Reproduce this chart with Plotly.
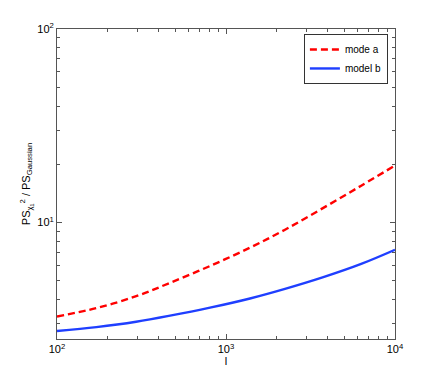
import plotly.graph_objects as go

ell = [100, 171, 294, 467, 804, 1387, 2234, 3767, 6310, 10000]
mode_a = [3.27, 3.61, 4.16, 4.88, 5.96, 7.41, 9.18, 11.9, 15.5, 19.7]
model_b = [2.75, 2.88, 3.07, 3.30, 3.63, 4.05, 4.54, 5.22, 6.11, 7.23]

x_tickvals = [100, 1000, 10000]
x_ticktext = ["10<sup>2</sup>", "10<sup>3</sup>", "10<sup>4</sup>"]
y_tickvals = [10, 100]
y_ticktext = ["10<sup>1</sup>", "10<sup>2</sup>"]

fig = go.Figure()
fig.add_trace(go.Scatter(x=ell, y=mode_a, mode="lines", name="mode a",
                         line=dict(color="#ff0000", width=2.4, dash="7px,4px", shape="spline")))
fig.add_trace(go.Scatter(x=ell, y=model_b, mode="lines", name="model b",
                         line=dict(color="#1f3fff", width=2.4, shape="spline")))

axis_common = dict(showline=True, linecolor="#555555", linewidth=1, mirror="allticks",
                   ticks="inside", ticklen=5, tickcolor="#555555", showgrid=False,
                   zeroline=False, automargin=False,
                   tickfont=dict(family="Liberation Sans", size=11, color="black"),
                   minor=dict(ticks="inside", ticklen=3, tickcolor="#555555",
                              showgrid=False, dtick="D1"))

fig.update_xaxes(type="log", range=[2, 4], tickvals=x_tickvals, ticktext=x_ticktext,
                 title=dict(text="l", font=dict(family="Liberation Sans", size=11, color="black"),
                            standoff=2),
                 **axis_common)
fig.update_yaxes(type="log", range=[0.398, 2], tickvals=y_tickvals, ticktext=y_ticktext,
                 title=dict(text="PS<sub>χ<sub>1</sub></sub><sup>2</sup> / PS<sub>Gaussian</sub>",
                            font=dict(family="Liberation Sans", size=11, color="black"),
                            standoff=4),
                 **axis_common)

fig.update_layout(width=428, height=374, margin=dict(l=49, r=41, t=21, b=43),
                  plot_bgcolor="white", paper_bgcolor="white",
                  font=dict(family="Liberation Sans", size=11, color="black"),
                  legend=dict(x=0.979, y=0.984, xanchor="right", yanchor="top",
                              bgcolor="white", bordercolor="#333333", borderwidth=1,
                              font=dict(size=10, color="black"), tracegroupgap=0, itemwidth=30))

fig.write_html("out.html")
